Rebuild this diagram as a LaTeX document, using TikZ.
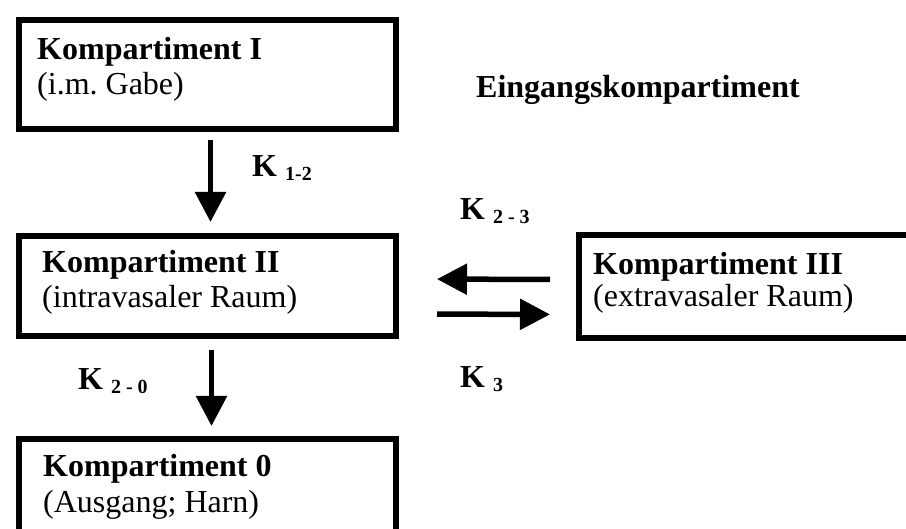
\documentclass[tikz,border=0pt]{standalone}
\usepackage{fontspec}
\setmainfont{Liberation Serif}
\usetikzlibrary{arrows.meta}
\frenchspacing
% lowered, smaller index after a rate constant K
\newcommand\ratesub[1]{\raisebox{-4pt}{\fontsize{20}{20}\selectfont #1}}
\begin{document}
\begin{tikzpicture}[x=1pt,y=-1pt,
  box/.style={draw, line width=6pt, inner sep=0pt, anchor=north west},
  title/.style={anchor=base west, inner sep=0pt, font=\fontsize{32}{36}\selectfont\bfseries},
  sub/.style={anchor=base west, inner sep=0pt, font=\fontsize{32}{36}\selectfont},
  rate/.style={anchor=base west, inner sep=0pt, font=\fontsize{32}{36}\selectfont\bfseries},
  flow/.style={line width=5.5pt, -{Triangle[width=30pt,length=30pt]}}]
\clip (0,0) rectangle (906,529);

% compartments
\node[box, minimum width=377pt, minimum height=109pt] (I) at (16,17) {};
\node[box, minimum width=377pt, minimum height=100pt] (II) at (16,233) {};
\node[box, minimum width=360pt, minimum height=103pt] (III) at (576,232) {};
\node[box, minimum width=377pt, minimum height=120pt] (O) at (16,436) {};

\node[title] (Ia) at (37,60) {Kompartiment I};
\node[sub] (Ib) at (37,95) {(i.m.\ Gabe)};
\node[title] (IIa) at (42,273) {Kompartiment II};
\node[sub] (IIb) at (42,308) {(intravasaler Raum)};
\node[title] (IIIa) at (593,275) {Kompartiment III};
\node[sub] (IIIb) at (593,307) {(extravasaler Raum)};
\node[title] (Oa) at (43,477) {Kompartiment 0};
\node[sub] (Ob) at (43,512) {(Ausgang; Harn)};

\node[title] (entry) at (476,98) {Eingangskompartiment};

% rate constants
\node[rate] (k12) at (252,177) {K \ratesub{1-2}};
\node[rate] (k23) at (460,220) {K \ratesub{2 - 3}};
\node[rate] (k3) at (460,388) {K \ratesub{3}};
\node[rate] (k20) at (78,390) {K \ratesub{2 - 0}};

% transfers
\draw[flow, shorten <=8pt, shorten >=11pt] ([xshift=3pt]I.south) -- ([xshift=3pt]II.north);
\draw[flow, shorten <=11pt, shorten >=10pt] ([xshift=4pt]II.south) -- ([xshift=4pt]O.north);
\draw[flow, shorten <=26pt, shorten >=38pt] ([yshift=7pt]III.west) -- ([yshift=7pt]II.east);
\draw[flow, shorten <=38pt, shorten >=26pt] ([yshift=-28pt]II.east) -- ([yshift=-28pt]III.west);
\end{tikzpicture}
\end{document}
